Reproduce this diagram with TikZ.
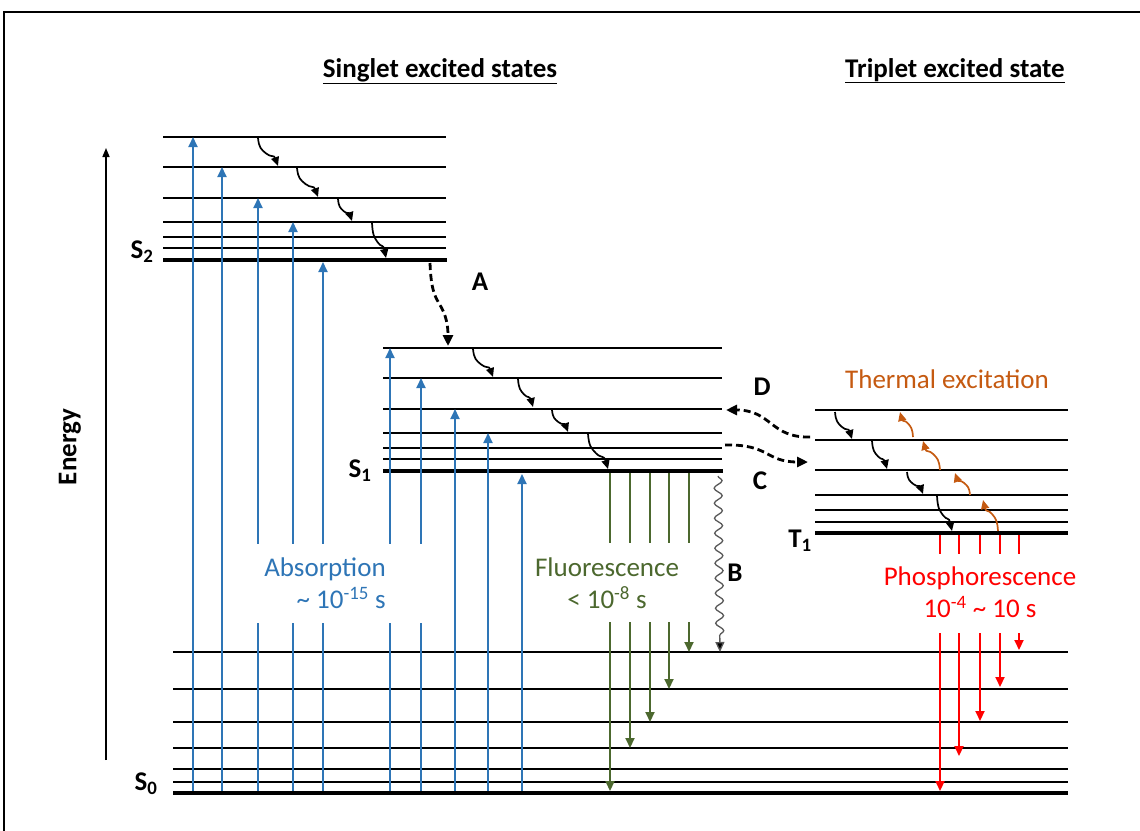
\documentclass[tikz,border=0pt]{standalone}
\usepackage{fontspec}
\setmainfont{Carlito}
\usepackage{xcolor}
\usepackage{tikz}
\usetikzlibrary{arrows.meta, decorations.pathmorphing}

\definecolor{absblue}{RGB}{46,117,182}
\definecolor{flugreen}{RGB}{76,104,46}
\definecolor{thermorange}{RGB}{197,90,17}

% wavy relaxation arrow from (#2,#3) to (#4,#5)
\newcommand{\wavyarrow}[5][]{%
  \pgfmathsetmacro{\wmx}{#2+0.4*(#4-#2)}%
  \pgfmathsetmacro{\wmy}{#3+0.55*(#5-#3)}%
  \pgfmathsetmacro{\wsx}{0.05*(#4-#2)}%
  \pgfmathsetmacro{\wsy}{0.35*(#5-#3)}%
  \pgfmathsetmacro{\wdx}{0.25*(#4-#2)}%
  \pgfmathsetmacro{\wdxn}{-0.25*(#4-#2)}%
  \pgfmathsetmacro{\wdy}{0.15*(#5-#3)}%
  \pgfmathsetmacro{\wdyn}{-0.15*(#5-#3)}%
  \pgfmathsetmacro{\wex}{-0.2*(#4-#2)}%
  \pgfmathsetmacro{\wey}{-0.4*(#5-#3)}%
  \draw[relaxarrow,#1] (#2,#3) .. controls +(\wsx,\wsy) and +(\wdxn,\wdyn) .. (\wmx,\wmy) .. controls +(\wdx,\wdy) and +(\wex,\wey) .. (#4,#5);}

\begin{document}
\begin{tikzpicture}[
    x=1pt, y=-1pt,
    every node/.style={font=\fontsize{27}{32}\selectfont, inner sep=0pt},
    vib/.style={line width=2pt},
    vibbase/.style={line width=4.5pt},
    absarrow/.style={absblue, line width=2pt, -{Triangle[length=10pt,width=9pt]}},
    fluarrow/.style={flugreen, line width=2pt, -{Triangle[length=10pt,width=9pt]}},
    phosarrow/.style={red, line width=2pt, -{Triangle[length=10pt,width=9pt]}},
    relaxarrow/.style={line width=1.7pt, -{Triangle[length=9pt,width=8pt]}},
    crossarrow/.style={line width=2.8pt, dash pattern=on 7pt off 4pt, -{Triangle[length=11pt,width=10pt]}},
    gap/.style={fill=white},
    lbl/.style={font=\fontsize{27}{32}\selectfont\bfseries}
]
\useasboundingbox (0,0) rectangle (1140,830);
\draw[line width=2.5pt] (4,12) rectangle (1180,870);

% Titles
\node[lbl, anchor=base] (singlet) at (440,77) {\underline{Singlet excited states}};
\node[lbl, anchor=base] (triplet) at (955,77) {\underline{Triplet excited state}};

% Energy axis
\draw[line width=1.5pt, -{Triangle[length=9pt,width=7pt]}] (106,760) -- (106,148);
\node[lbl, rotate=90] (energy) at (70,447) {Energy};

% S2 levels
\foreach \y in {137,167,198,222,237,248} \draw[vib] (163,\y) -- (446,\y);
\draw[vibbase] (163,260) -- (447,260);
% S1 levels
\foreach \y in {348,378,409,433,448,459} \draw[vib] (383,\y) -- (722,\y);
\draw[vibbase] (383,471) -- (723,471);
% T1 levels
\foreach \y in {410,440,470,495,510,522} \draw[vib] (815,\y) -- (1068,\y);
\draw[vibbase] (815,533) -- (1068,533);
% S0 levels
\foreach \y in {652,689,722,748,769,782} \draw[vib] (173,\y) -- (1068,\y);
\draw[vibbase] (173,793) -- (1068,793);

% State labels
\node[lbl] (s2) at (142,252) {S\textsubscript{2}};
\node[lbl] (s1) at (360,471) {S\textsubscript{1}};
\node[lbl] (t1) at (800,541) {T\textsubscript{1}};
\node[lbl] (s0) at (146,784) {S\textsubscript{0}};

% Absorption
\foreach \x/\y in {193/137,222/167,258/198,293/222,323/262,390/348,421/378,455/409,488/433,522/474}
    \draw[absarrow] (\x,791) -- (\x,\y);

% Fluorescence
\foreach \x/\y in {610/791,630/748,650/722,669/689,689/652}
    \draw[fluarrow] (\x,473) -- (\x,\y);

% Phosphorescence
\foreach \x/\y in {940/791,959/756,980/721,1000/687,1019/650}
    \draw[phosarrow] (\x,535) -- (\x,\y);

% Vibrational relaxation
\foreach \a/\b/\c/\d in {258/138/278/166, 297/168/318/197, 338/199/352/221, 372/223/386/258,
                         473/349/493/377, 518/379/533/407, 552/410/568/432, 588/434/608/469,
                         835/412/852/439, 872/441/887/469, 907/472/923/494, 937/496/952/531}
    \wavyarrow{\a}{\b}{\c}{\d};

% Thermal excitation
\foreach \a/\b/\c/\d in {998/531/983/500, 970/495/955/473, 940/470/923/441, 913/437/900/412}
    \wavyarrow[thermorange]{\a}{\b}{\c}{\d};

% Crossings A, C, D and B
\draw[crossarrow] (430,263) .. controls (431,292) and (436,298) .. (440,305) .. controls (446,315) and (448,325) .. (448,346);
\draw[crossarrow] (810,437) .. controls (770,438) and (772,410) .. (726,410);
\draw[crossarrow] (725,445) .. controls (770,444) and (765,462) .. (808,462);
\draw[black!65, line width=1.3pt, decorate,
      decoration={snake, amplitude=4pt, segment length=15pt, post length=10pt},
      -{Triangle[length=10pt,width=9pt,fill=black]}] (718,476) -- (720,652);

\node[lbl] (labelA) at (480,282) {A};
\node[lbl] (labelB) at (735,573) {B};
\node[lbl] (labelC) at (760,481) {C};
\node[lbl] (labelD) at (762,387) {D};

% Process texts
\fill[gap] (240,544) rectangle (437,623);
\fill[gap] (528,543) rectangle (700,622);
\fill[gap] (875,554) rectangle (1080,633);
\node[absblue, align=right] (absorption) at (325,583) {Absorption\\\textasciitilde\ 10\textsuperscript{-15} s};
\node[flugreen, align=center] (fluorescence) at (607,583) {Fluorescence\\< 10\textsuperscript{-8} s};
\node[red, align=center] (phosphorescence) at (980,592) {Phosphorescence\\10\textsuperscript{-4} \textasciitilde\ 10 s};
\node[thermorange] (thermal) at (947,379) {Thermal excitation};

\end{tikzpicture}
\end{document}
